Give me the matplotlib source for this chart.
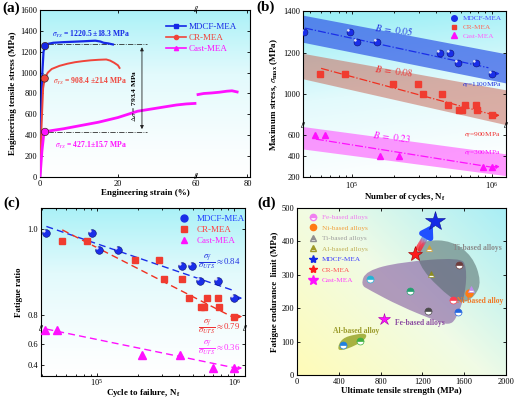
import numpy as np
import matplotlib
matplotlib.use("Agg")
import matplotlib.pyplot as plt
from matplotlib.path import Path
from matplotlib.patches import PathPatch
from matplotlib.lines import Line2D
from matplotlib.collections import LineCollection
from matplotlib.colors import LinearSegmentedColormap
from matplotlib.ticker import FormatStrFormatter, NullFormatter

plt.rcParams['font.family'] = ['Liberation Serif', 'DejaVu Serif']
plt.rcParams['mathtext.fontset'] = 'stix'
plt.rcParams['axes.linewidth'] = 0.8

# ---------------- (a) tensile curves ----------------
mdcf_strain = [0, 0.3, 0.6, 0.9, 1.3, 2, 3.4, 6, 8.6, 11, 14.2, 15.5, 16.3, 17.5, 18.7]
mdcf_stress = [0, 600, 1000, 1200, 1254, 1275, 1286, 1292, 1296, 1300, 1306, 1298, 1286, 1280, 1270]
cr_strain = [0, 0.4, 0.8, 1.2, 2, 3, 5, 7, 9, 11, 13, 15, 17, 18, 19, 20, 20.8]
cr_stress = [0, 500, 850, 944, 1000, 1035, 1065, 1085, 1100, 1110, 1118, 1123, 1126, 1115, 1095, 1070, 1045]
cast_strain_1 = [0, 0.5, 1.0, 1.4, 3, 6, 10, 15, 20, 25, 30, 35, 40, 45, 50, 55, 59.5]
cast_stress_1 = [0, 250, 420, 435, 445, 462, 490, 525, 570, 600, 630, 645, 660, 675, 690, 700, 705]
cast_strain_2 = [60.8, 63, 66, 69, 72, 74, 76]
cast_stress_2 = [790, 800, 805, 812, 822, 826, 815]
ys_strain = [1.3, 1.2, 1.3]
ys_stress = [1254, 944, 432]
ys_text = ['1220.5 \u00b118.3 MPa', '908.4 \u00b121.4 MPa', '427.1\u00b115.7 MPa']
delta_levels = [1270, 432]
delta_text = '793.4 MPa'

# ---------------- (b) S-N data ----------------
b_mdcf_n = [45500, 96000, 108600, 149800, 424000, 508000, 576000, 780000, 1000000]
b_mdcf_s = [1300, 1300, 1250, 1250, 1200, 1200, 1150, 1150, 1100]
b_cr_n = [59300, 89600, 196000, 296000, 323000, 438000, 489000, 589000, 615000, 650000, 776000, 789000, 1000000]
b_cr_s = [1100, 1100, 1050, 1050, 1000, 1000, 950, 925, 925, 950, 950, 925, 900]
b_cast_n = [54500, 64400, 159700, 218600, 871000, 1000000]
b_cast_s = [600, 600, 400, 400, 300, 300]
b_mdcf_fit_n, b_mdcf_fit_s = [46000, 950000], [1318, 1128]
b_cr_fit_n, b_cr_fit_s = [60000, 1100000], [1125, 897]
b_cast_fit_n, b_cast_fit_s = [55000, 1100000], [565, 286]
band_n = [44500, 1270000]
band_mdcf = ([1380, 1195], [1250, 1055])
band_cr = ([1197, 1022], [1075, 855])
band_cast = ([686, 423], [470, 213])
b_exponent = ['0.05', '0.08', '0.23']
b_sigma_f = ['1100MPa', '900MPa', '300MPa']

# ---------------- (c) fatigue ratio ----------------
c_mdcf_n = [42900, 92000, 104000, 143700, 414000, 495000, 566000, 769000, 1000000]
c_mdcf_r = [0.992, 0.992, 0.953, 0.953, 0.915, 0.915, 0.879, 0.879, 0.840]
c_cr_n = [56000, 85500, 190000, 285000, 308000, 417000, 469000, 576000, 599000, 636000, 765000, 778000, 1000000]
c_cr_r = [0.972, 0.972, 0.929, 0.929, 0.885, 0.885, 0.841, 0.819, 0.819, 0.841, 0.841, 0.819, 0.797]
c_cast_n = [42200, 51200, 212000, 403000, 703000, 1000000]
c_cast_r = [0.733, 0.733, 0.495, 0.495, 0.368, 0.368]
c_mdcf_fit_n, c_mdcf_fit_r = [42900, 983000], [1.007, 0.858]
c_cr_fit_n, c_cr_fit_r = [56000, 1000000], [0.999, 0.794]
c_cast_fit_n, c_cast_fit_r = [42900, 1100000], [0.740, 0.360]
c_ratio_text = ['0.84', '0.79', '0.36']

# ---------------- (d) Ashby-type map ----------------
fe_uts = [701, 1078, 1257, 1547, 1493, 1537]
fe_fat = [287, 252, 192, 329, 224, 189]
fe_colors = ['#25b4d6', '#23a070', '#4a4a4a', '#6e3c3c', '#ff3c50', '#2266e0']
ni_uts, ni_fat = [1642], [246]
ti_uts = [1259, 1282, 1665]
ti_fat = [381, 301, 257]
ti_colors = ['#d2a232', '#8c8c1e', '#c08cf0']
al_uts = [440, 606]
al_fat = [90, 103]
al_colors = ['#2080e0', '#40b040']
mea_uts = [1317, 1132, 829]
mea_fat = [460, 361, 167]
ti_zone = ([1150, 1230, 1480, 1680, 1765, 1705, 1570, 1350, 1165], [382, 404, 402, 356, 280, 236, 210, 262, 330])
fe_zone = ([610, 660, 990, 1560, 1625, 1610, 1520, 1450, 1330, 980, 690],
           [270, 312, 338, 352, 325, 240, 165, 150, 162, 207, 255])
al_zone = ([385, 430, 560, 665, 660, 560, 420], [80, 110, 122, 125, 108, 88, 72])

BLUE, RED, MAG = '#1428e6', '#f0443a', '#ff10ff'

W, H = 515, 399
fig = plt.figure(figsize=(W / 100, H / 100), dpi=100)


def rect(l, t, r, b):
    return [l / W, 1 - b / H, (r - l) / W, (b - t) / H]


def background(r, kind):
    bg = fig.add_axes(r, zorder=0)
    t = np.linspace(0, 1, 200)
    X, Y = np.meshgrid(t, t)
    if kind == 'd':
        g = (X * 0.55 + Y * 0.45)
        cm = LinearSegmentedColormap.from_list('d', ['#fffcb8', '#f0fbe6', '#a8eef6'])
    else:
        g = Y ** 1.2 * 0.9
        if kind == 'b':
            g = Y ** 1.1 * 0.95 - X * 0.15 + 0.1
        cm = LinearSegmentedColormap.from_list('c', ['#ffffff', '#e2fafc', '#9ceff6'])
    bg.imshow(g, origin='lower', extent=[0, 1, 0, 1], aspect='auto', cmap=cm, vmin=0, vmax=1)
    bg.axis('off')
    ax = fig.add_axes(r, zorder=1)
    ax.patch.set_alpha(0)
    ax.tick_params(which='both', direction='in', top=True, right=True, labelsize=6, pad=2, width=0.6)
    ax.tick_params(which='major', length=2.5)
    ax.tick_params(which='minor', length=1.5)
    return ax


def piecewise(xp, fp):
    return (lambda v: np.interp(v, xp, fp)), (lambda v: np.interp(v, fp, xp))


def breaks(ax, pos, axis):
    if axis == 'x':
        tr, pts = ax.get_xaxis_transform(), [(pos, 0), (pos, 1)]
    else:
        tr, pts = ax.get_yaxis_transform(), [(0, pos), (1, pos)]
    for p in pts:
        ax.text(p[0], p[1], '//', transform=tr, ha='center', va='center', fontsize=6.5,
                fontweight='bold', clip_on=False, zorder=10)


HL = Path.circle(center=(-0.35, 0.35), radius=0.22)


def spheres(ax, x, y, ms):
    ax.plot(x, y, 'o', color='#1a2ee8', mec='#0a1070', mew=0.4, ms=ms, ls='none', zorder=5)
    ax.plot(x, y, marker=HL, color='white', ms=ms, mew=0, ls='none', zorder=6, alpha=0.85)


def runout(ax, n, v, color):
    ax.annotate('', xy=(n * 1.2, v), xytext=(n, v),
                arrowprops=dict(arrowstyle='-|>', color=color, lw=0.8, mutation_scale=5))


def smooth_patch(xs, ys, **kw):
    pts = np.column_stack([xs, ys])
    mids = (pts + np.roll(pts, -1, axis=0)) / 2
    verts, codes = [mids[-1]], [Path.MOVETO]
    for i in range(len(pts)):
        verts += [pts[i], mids[i]]
        codes += [Path.CURVE3, Path.CURVE3]
    return PathPatch(Path(verts, codes), **kw)


def color_legend(leg, colors):
    for t, c in zip(leg.get_texts(), colors):
        t.set_color(c)


lab = dict(fontsize=6.5, fontweight='bold')

# ===================== (a) =====================
ax = background(rect(40, 10, 250, 177), 'a')
ax.set_xscale('function', functions=piecewise([-1000, 20, 60, 1000], [-1000, 20, 40, 40 + 940 * 0.66]))
ax.plot(mdcf_strain, mdcf_stress, color=BLUE, lw=1.6, zorder=3)
ax.plot(cr_strain, cr_stress, color=RED, lw=1.4, zorder=3)
ax.plot(cast_strain_1, cast_stress_1, color=MAG, lw=2.0, zorder=3)
ax.plot(cast_strain_2, cast_stress_2, color=MAG, lw=2.0, zorder=3)
ax.scatter(ys_strain, ys_stress, s=28, c=[BLUE, RED, MAG], edgecolors='#402020', linewidths=0.5, zorder=5)
for lv in delta_levels:
    ax.plot([2, 35], [lv, lv], color='#303030', lw=0.6, ls='-.', zorder=2)
ax.annotate('', xy=(32.3, delta_levels[1]), xytext=(32.3, delta_levels[0]),
            arrowprops=dict(arrowstyle='<|-|>', color='#202020', lw=0.6, mutation_scale=5))
ax.text(28, 780, r'$\Delta\sigma$ = ' + delta_text, rotation=90, ha='center', va='center', fontsize=5.3,
        fontweight='bold')
for (x, y), txt, c in zip([(3.0, 1366), (3.4, 918), (3.9, 304)], ys_text, [BLUE, RED, MAG]):
    ax.text(x, y, r'$\sigma_{YS}$ = ' + txt, color=c, fontsize=5.5, fontweight='bold', va='center')
ax.set_xlim(0, 81)
ax.set_ylim(0, 1600)
ax.set_xticks([0, 20, 60, 80])
ax.set_yticks(range(0, 1601, 200))
breaks(ax, 60, 'x')
ax.set_xlabel('Engineering strain (%)', labelpad=1, **lab)
ax.set_ylabel('Engineering tensile stress (MPa)', labelpad=2, **lab)
hd = [Line2D([], [], color=BLUE, marker='s', ms=3, lw=1.2),
      Line2D([], [], color=RED, marker='o', ms=3, lw=1.2),
      Line2D([], [], color=MAG, marker='^', ms=3, lw=1.2)]
leg = ax.legend(hd, ['MDCF-MEA', 'CR-MEA', 'Cast-MEA'], loc='upper left', bbox_to_anchor=(0.58, 0.95),
                frameon=False, fontsize=6.5, handlelength=2.2, handletextpad=0.3, labelspacing=0.3, borderpad=0)
color_legend(leg, [BLUE, RED, MAG])

# ===================== (b) =====================
ax = background(rect(303, 11, 506, 177), 'b')
ax.set_xscale('log')
ax.set_yscale('function', functions=piecewise([-1e4, 687, 848, 1e5],
                                              [-1e4 * 0.104, 687 * 0.104, 687 * 0.104 + 0.3,
                                               687 * 0.104 + 0.3 + (1e5 - 848) * 0.209]))
ax.fill_between(band_n, *band_mdcf, color='#3a62e8', alpha=0.75, lw=0, zorder=1)
ax.fill_between(band_n, *band_cr, color='#c8604e', alpha=0.5, lw=0, zorder=1)
ax.fill_between(band_n, *band_cast, color='#ff44ff', alpha=0.55, lw=0, zorder=1)
ax.plot(b_mdcf_fit_n, b_mdcf_fit_s, color='#1a2ee8', lw=0.9, ls='-.', zorder=3)
ax.plot(b_cr_fit_n, b_cr_fit_s, color='#f03020', lw=0.9, ls='-.', zorder=3)
ax.plot(b_cast_fit_n, b_cast_fit_s, color='#ff10ff', lw=0.9, ls='-.', zorder=3)
spheres(ax, b_mdcf_n, b_mdcf_s, 5)
ax.plot(b_cr_n, b_cr_s, 's', color='#f03c30', ms=4.5, ls='none', zorder=5)
ax.plot(b_cast_n, b_cast_s, '^', color='#ff10ff', ms=5, ls='none', zorder=5)
runout(ax, b_mdcf_n[-1], b_mdcf_s[-1], '#1a2ee8')
runout(ax, b_cr_n[-1], b_cr_s[-1], '#f03020')
runout(ax, b_cast_n[-1], b_cast_s[-1], '#ff10ff')
for (x, y), e, c in zip([(199000, 1313), (199000, 1112), (194000, 590)], b_exponent, ['#2030e0', '#f03030', '#ff10ff']):
    ax.text(x, y, r'$B\ =\ ' + e + '$', color=c, fontsize=7, rotation=-7, ha='center', va='center')
for (x, y), s, c in zip([(857000, 1040), (857000, 600), (857000, 423)], b_sigma_f, ['#2030e0', '#f03030', '#ff10ff']):
    ax.text(x, y, r'$\sigma_f$=' + s, color=c, fontsize=5.3, ha='center', va='center')
ax.set_xlim(44500, 1270000)
ax.set_ylim(200, 1400)
ax.set_yticks([200, 400, 600, 1000, 1200, 1400])
ax.xaxis.set_minor_formatter(NullFormatter())
breaks(ax, 767, 'y')
ax.set_xlabel(r'Number of cycles, N$_\mathregular{f}$', labelpad=0, **lab)
ax.set_ylabel(r'Maximum stress, $\sigma_{\mathbf{max}}$ (MPa)', labelpad=2, **lab)
hd = [Line2D([], [], color='#1a2ee8', marker='o', ms=4, ls='none'),
      Line2D([], [], color='#f03c30', marker='s', ms=3.5, ls='none'),
      Line2D([], [], color='#ff10ff', marker='^', ms=4, ls='none')]
leg = ax.legend(hd, ['MDCF-MEA', 'CR-MEA', 'Cast-MEA'], loc='upper left', bbox_to_anchor=(0.71, 0.995),
                frameon=False, fontsize=5.2, handlelength=1.0, handletextpad=0.6, labelspacing=0.35, borderpad=0)
color_legend(leg, ['#4a4aff', '#ff6a5a', '#ff60ff'])

# ===================== (c) =====================
ax = background(rect(41, 208, 245, 376), 'c')
ax.set_xscale('log')
ax.set_yscale('function', functions=piecewise([-10, 0.742, 0.769, 10],
                                              [-1050, 0.742 * 105, 0.742 * 105 + 0.3,
                                               0.742 * 105 + 0.3 + (10 - 0.769) * 430]))
ax.plot(c_mdcf_fit_n, c_mdcf_fit_r, color='#1a2ee8', lw=1.0, ls=(0, (5, 3)), zorder=3)
ax.plot(c_cr_fit_n, c_cr_fit_r, color='#f03020', lw=1.0, ls=(0, (5, 3)), zorder=3)
ax.plot(c_cast_fit_n, c_cast_fit_r, color='#ff10ff', lw=1.0, ls=(0, (5, 3)), zorder=3)
spheres(ax, c_mdcf_n, c_mdcf_r, 5.5)
ax.plot(c_cr_n, c_cr_r, 's', color='#f03c30', ms=5, ls='none', zorder=5)
ax.plot(c_cast_n, c_cast_r, '^', color='#ff10ff', ms=5.5, ls='none', zorder=5)
runout(ax, c_mdcf_n[-1], c_mdcf_r[-1], '#1a2ee8')
runout(ax, c_cr_n[-1], c_cr_r[-1], '#f03020')
runout(ax, c_cast_n[-1], c_cast_r[-1], '#ff10ff')
for (x, y), r, c in zip([(0.875, 0.679), (0.875, 0.292), (0.875, 0.171)], c_ratio_text,
                        ['#2030e0', '#f03030', '#ff30ff']):
    ax.text(x, y, r'$\dfrac{\sigma_f}{\sigma_{UTS}}\approx$' + r, transform=ax.transAxes, color=c, fontsize=6.3,
            ha='center', va='center')
ax.set_xlim(39200, 1200000)
ax.set_ylim(0.292, 1.05)
ax.set_yticks([0.4, 0.6, 0.8, 1.0])
ax.yaxis.set_major_formatter(FormatStrFormatter('%.1f'))
ax.xaxis.set_minor_formatter(NullFormatter())
ax.tick_params(axis='x', pad=1)
breaks(ax, 0.755, 'y')
ax.set_xlabel(r'Cycle to failure, N$_\mathregular{f}$', labelpad=-1, **lab)
ax.set_ylabel('Fatigue ratio', labelpad=3, **lab)
hd = [Line2D([], [], color='#1a2ee8', marker='o', ms=5, ls='none'),
      Line2D([], [], color='#f03c30', marker='s', ms=4.5, ls='none'),
      Line2D([], [], color='#ff10ff', marker='^', ms=5, ls='none')]
leg = ax.legend(hd, ['MDCF-MEA', 'CR-MEA', 'Cast-MEA'], loc='upper left', bbox_to_anchor=(0.655, 0.985),
                frameon=False, fontsize=6.5, handlelength=1.0, handletextpad=0.9, labelspacing=0.3, borderpad=0)
color_legend(leg, ['#2040ff', '#ff4040', '#ff20ff'])

# ===================== (d) =====================
ax = background(rect(297, 208, 506, 375), 'd')
ax.add_patch(smooth_patch(*fe_zone, facecolor='#7a4a9a', alpha=0.55, lw=0, zorder=1))
ax.add_patch(smooth_patch(*ti_zone, facecolor='#506868', alpha=0.55, lw=0, zorder=1))
ax.add_patch(smooth_patch(*al_zone, facecolor='#8c9a14', alpha=0.75, lw=0, zorder=1))
for x, y, c in zip(fe_uts, fe_fat, fe_colors):
    ax.plot(x, y, 'o', ms=5, fillstyle='top', color=c, markerfacecoloralt='white', mec=c, mew=0.5, zorder=5)
for x, y, c in zip(al_uts, al_fat, al_colors):
    ax.plot(x, y, 'o', ms=5, fillstyle='top', color=c, markerfacecoloralt='white', mec=c, mew=0.5, zorder=5)
ax.plot(ni_uts, ni_fat, 'o', ms=5, color='#ff7a14', ls='none', zorder=5)
for x, y, c in zip(ti_uts, ti_fat, ti_colors):
    ax.plot(x, y, '^', ms=5, fillstyle='top', color=c, markerfacecoloralt='white', mec=c, mew=0.5, zorder=5)
# arrow from CR-MEA to MDCF-MEA
p0 = np.array([mea_uts[1], mea_fat[1]], float)
p1 = np.array([mea_uts[0], mea_fat[0]], float)
seg_t = np.linspace(0.12, 0.72, 30)
pts = p0 + seg_t[:, None] * (p1 - p0)
segs = np.stack([pts[:-1], pts[1:]], axis=1)
cm = LinearSegmentedColormap.from_list('arr', ['#ff1a1a', '#ff3050', '#40a8ff', '#2050ff'])
ax.add_collection(LineCollection(segs, colors=cm(np.linspace(0, 1, len(segs))), lw=4.5, zorder=4,
                                 capstyle='butt'))
ax.annotate('', xy=p0 + 0.9 * (p1 - p0), xytext=p0 + 0.7 * (p1 - p0),
            arrowprops=dict(arrowstyle='-|>,head_length=0.7,head_width=0.45', color='#2050ff', lw=4,
                            mutation_scale=8, shrinkA=0, shrinkB=0), zorder=4)
ax.plot(mea_uts[0], mea_fat[0], '*', ms=15, color='#1428e6', mec='#0a1090', mew=0.4, zorder=6)
ax.plot(mea_uts[1], mea_fat[1], '*', ms=11, color='#ff1a1a', mec='#900', mew=0.4, zorder=6)
ax.plot(mea_uts[2], mea_fat[2], '*', ms=9, color='#ff10ff', mec='#a0a', mew=0.4, zorder=6)
ax.text(1730, 381, 'Ti-based alloys', color='#8a8a8a', fontsize=5.5, fontweight='bold', ha='center', va='center')
ax.text(1755, 221, 'Ni-based alloy', color='#f07a28', fontsize=5.5, fontweight='bold', ha='center', va='center')
ax.text(1180, 156, 'Fe-based alloys', color='#8a4aa0', fontsize=5.5, fontweight='bold', ha='center', va='center')
ax.text(571, 131, 'Al-based alloy', color='#9a9a28', fontsize=5.5, fontweight='bold', ha='center', va='center')
ax.set_xlim(0, 2000)
ax.set_ylim(0, 500)
ax.set_xticks(range(0, 2001, 400))
ax.set_yticks(range(0, 501, 100))
ax.set_xlabel('Ultimate tensile strength (MPa)', labelpad=1, **lab)
ax.set_ylabel('Fatigue endurance  limit (MPa)', labelpad=2, **lab)
hd = [Line2D([], [], marker='o', ms=4.5, fillstyle='top', color='#f080f0', markerfacecoloralt='white', ls='none'),
      Line2D([], [], marker='o', ms=4.5, color='#ff7a14', ls='none'),
      Line2D([], [], marker='^', ms=4.5, fillstyle='top', color='#909090', markerfacecoloralt='white', ls='none'),
      Line2D([], [], marker='^', ms=4.5, fillstyle='top', color='#a09a28', markerfacecoloralt='white', ls='none'),
      Line2D([], [], marker='*', ms=6, color='#1428e6', ls='none'),
      Line2D([], [], marker='*', ms=6, color='#ff1a1a', ls='none'),
      Line2D([], [], marker='*', ms=7, color='#ff10ff', ls='none')]
leg = ax.legend(hd, ['Fe-based alloys', 'Ni-based alloys', 'Ti-based alloys', 'Al-based alloys',
                     'MDCF-MEA', 'CR-MEA', 'Cast-MEA'], loc='upper left', bbox_to_anchor=(0.04, 0.985),
                frameon=False, fontsize=5.2, handlelength=1.0, handletextpad=0.8, labelspacing=0.62, borderpad=0)
color_legend(leg, ['#f07cf0', '#f0a040', '#a0a0a0', '#c0b058', '#4040ff', '#ff5050', '#ff40ff'])

# panel letters
for x, y, s in [(2, 2, '(a)'), (256, 1, '(b)'), (3, 197, '(c)'), (257, 197, '(d)')]:
    fig.text(x / W, 1 - y / H, s, fontsize=11, fontweight='bold', va='top', ha='left')

fig.savefig('out.png', dpi=100)
